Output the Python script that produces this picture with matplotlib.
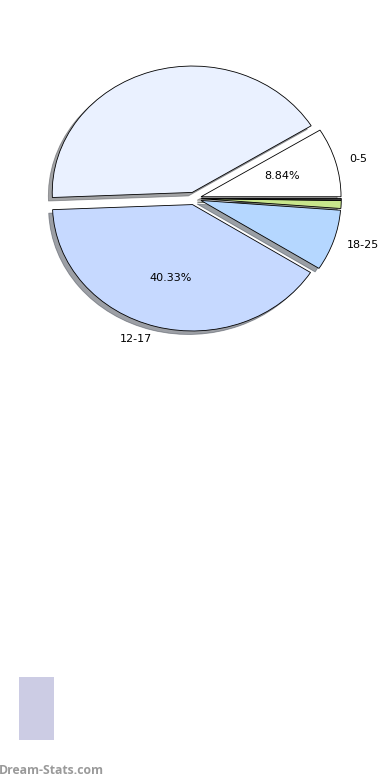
import matplotlib
matplotlib.use("Agg")
import matplotlib.pyplot as plt
from matplotlib.patches import Rectangle

# Data
categories = ["0-5", "6-11", "12-17", "18-25", "26-35", "36+"]
shown_labels = ["0-5", "", "12-17", "18-25", "", ""]
values = [8.84, 41.80, 40.33, 7.80, 1.00, 0.23]
show_pct = [True, False, True, False, False, False]
colors = ["#ffffff", "#eaf1ff", "#c6d9ff", "#b5d7ff", "#c8e68c", "#404040"]
explode = [0.05, 0.05, 0.05, 0.05, 0.05, 0.05]

fig = plt.figure(figsize=(3.9, 7.8), dpi=100)
ax = fig.add_axes([0.0495, 0.543, 0.8974, 0.4051])

pct_iter = iter(show_pct)
def fmt(p):
    return f"{p:.2f}%" if next(pct_iter) else ""

wedges, texts, autotexts = ax.pie(
    values, labels=shown_labels, colors=colors, explode=explode,
    startangle=0, counterclock=True, shadow=True,
    autopct=fmt, pctdistance=0.6, labeldistance=1.1,
    wedgeprops=dict(edgecolor="black", linewidth=0.6),
    textprops=dict(fontsize=8, color="black"),
)
ax.set_aspect("auto")
ax.set_xlim(-1.25, 1.25)
ax.set_ylim(-1.25, 1.25)
ax.axis("off")

fig.patches.append(Rectangle((19/390, 40/780), 35/390, 63/780,
                             transform=fig.transFigure, facecolor="#ccccE4",
                             edgecolor="none"))
fig.text(-0.003, 10/780, "Dream-Stats.com", fontsize=8.8, fontweight="bold",
         color="#9a9a9a", family="Open Sans", ha="left", va="center")

fig.savefig("out.png", dpi=100)
